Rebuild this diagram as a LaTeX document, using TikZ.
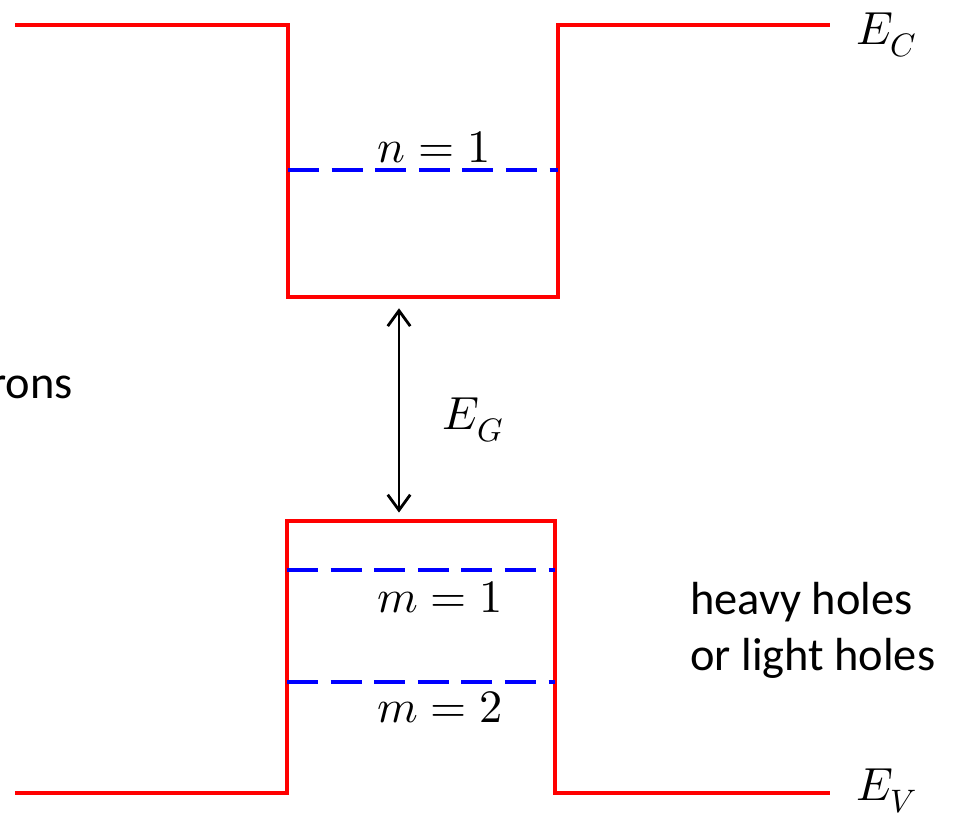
\documentclass[tikz,border=0pt]{standalone}
\usepackage{fontspec}
\usepackage{unicode-math}
\setmainfont{Carlito}
\setmathfont{Latin Modern Math}
\usepackage{tikz}
\usetikzlibrary{arrows.meta,positioning}
\definecolor{bandred}{HTML}{FF0000}
\definecolor{levelblue}{HTML}{0000FF}
\tikzset{
  band/.style={draw=bandred,line width=3.4pt,line join=miter},
  level/.style={draw=levelblue,line width=2.5pt,dash pattern=on 22pt off 9pt},
  lbl/.style={font=\fontsize{33}{40}\selectfont,inner sep=0pt,align=left},
  gaparr/.style={{Straight Barb[length=11pt,width=16pt,line width=2pt]}-{Straight Barb[length=11pt,width=16pt,line width=2pt]},line width=2.1pt,black},
}
\begin{document}
\begin{tikzpicture}[x=0.025cm,y=-0.025cm]
\clip (0,0) rectangle (959,818);
\useasboundingbox (0,0) rectangle (959,818);
% conduction band
\coordinate (cl) at (15,25);
\coordinate (cr) at (830,25);
\coordinate (cbot) at (399,297);
\draw[band] (cl) -- (288,25) -- (288,297) -- (558,297) -- (558,25) -- (cr);
\draw[level] (288,170) -- (558,170);
% valence band
\coordinate (vl) at (15,793);
\coordinate (vr) at (830,793);
\coordinate (vtop) at (399,521);
\draw[band] (vl) -- (287,793) -- (287,521) -- (555,521) -- (555,793) -- (vr);
\draw[level] (287,570) -- (555,570);
\draw[level] (287,682) -- (555,682);
% labels
\node[lbl] (ec) at (887,35) {$E_C$};
\node[lbl] (ev) at (887,791) {$E_V$};
\node[lbl] (n1) at (434,147) {$n=1$};
\node[lbl] (m1) at (440,597) {$m=1$};
\node[lbl] (m2) at (440,707) {$m=2$};
\node[lbl] (eg) at (473,420) {$E_G$};
\node[lbl,anchor=east] (elec) at (73,383) {electrons};
\node[lbl,anchor=west] (holes) at (690,630) {heavy holes\\or light holes};
\draw[gaparr,shorten <=8pt,shorten >=6pt] (cbot) -- (vtop);
\end{tikzpicture}
\end{document}
